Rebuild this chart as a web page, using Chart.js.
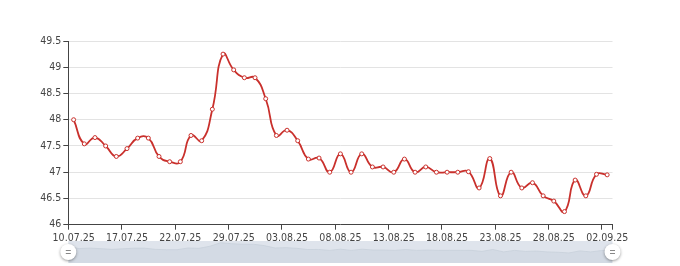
<!DOCTYPE html>
<html><head><meta charset="utf-8">
<script src="https://cdn.jsdelivr.net/npm/chart.js@4.4.1/dist/chart.umd.min.js"></script>
<style>
html,body{margin:0;padding:0;background:#fff;}
#wrap{position:relative;width:680px;height:266px;overflow:hidden;}
#main{position:absolute;left:0;top:0;}
#zoom{position:absolute;left:0;top:236px;}
</style></head><body>
<div id="wrap">
<canvas id="main" width="680" height="266"></canvas>
<canvas id="zoom" width="680" height="30"></canvas>
</div>
<script>
const dates = ['10.07.25','11.07.25','14.07.25','15.07.25','16.07.25','17.07.25','18.07.25','19.07.25','20.07.25','21.07.25',
'22.07.25','23.07.25','24.07.25','25.07.25','28.07.25','29.07.25','30.07.25','31.07.25','01.08.25','02.08.25',
'03.08.25','04.08.25','05.08.25','06.08.25','07.08.25','08.08.25','09.08.25','10.08.25','11.08.25','12.08.25',
'13.08.25','14.08.25','15.08.25','16.08.25','17.08.25','18.08.25','19.08.25','20.08.25','21.08.25','22.08.25',
'23.08.25','24.08.25','25.08.25','26.08.25','27.08.25','28.08.25','29.08.25','30.08.25','31.08.25','01.09.25','02.09.25'];
const rates = [48.0,47.54,47.66,47.5,47.3,47.45,47.65,47.65,47.3,47.2,
47.2,47.7,47.6,48.2,49.25,48.95,48.8,48.8,48.4,47.7,
47.8,47.6,47.25,47.27,47.0,47.35,47.0,47.35,47.1,47.1,
47.0,47.25,47.0,47.1,47.0,47.0,47.0,47.01,46.7,47.26,
46.55,47.0,46.7,46.8,46.55,46.45,46.25,46.85,46.55,46.96,46.95];
const yMin = 46, yMax = 49.5, yStep = 0.5;
const labelEvery = 5;
const shadowMin = 43.3, shadowMax = 49.75;

const FONT = '"Liberation Sans Narrow", "DejaVu Sans Condensed", "Liberation Sans", sans-serif';
const LINE = '#c9302c';

new Chart(document.getElementById('main'), {
  type: 'line',
  data: { labels: dates, datasets: [{
    data: rates, borderColor: LINE, borderWidth: 1.8, tension: 0.5,
    pointRadius: 2, pointBorderWidth: 1, pointBackgroundColor: '#fff', pointBorderColor: LINE, fill: false
  }]},
  options: {
    responsive: false, animation: false, devicePixelRatio: 1,
    layout: { padding: { left: 0, right: 67.5, top: 41, bottom: 0 } },
    plugins: { legend: { display: false }, tooltip: { enabled: false } },
    scales: {
      x: {
        type: 'category', offset: true,
        grid: { display: true, drawOnChartArea: false, offset: true, tickLength: 5,
          tickColor: ctx => (ctx.index === undefined || ctx.index % labelEvery === 0) ? '#444' : 'rgba(0,0,0,0)' },
        border: { color: '#444', width: 1 },
        ticks: { autoSkip: false, maxRotation: 0, minRotation: 0, padding: 2, color: '#444',
          font: { family: FONT, size: 10.5 },
          callback: (v, i) => (i % labelEvery === 0 ? dates[i] : '') },
        afterFit: s => { s.height = 41.3; }
      },
      y: {
        min: yMin, max: yMax,
        ticks: { stepSize: yStep, padding: 2, color: '#444', font: { family: FONT, size: 10.5 },
          callback: v => String(Number(Number(v).toFixed(1))) },
        grid: { color: '#e3e3e3', tickColor: '#444', tickLength: 5 },
        border: { color: '#444', width: 1 },
        afterFit: s => { s.width = 68.3; }
      }
    }
  }
});

const sliderPlugin = {
  id: 'slider',
  beforeDatasetsDraw(chart) {
    const { ctx, chartArea: a } = chart;
    ctx.save();
    ctx.fillStyle = '#dfe4ec';
    ctx.fillRect(a.left, a.top, a.right - a.left, a.bottom - a.top);
    ctx.restore();
  },
  afterDraw(chart) {
    const { ctx, chartArea: a } = chart;
    const cy = (a.top + a.bottom) / 2;
    [a.left, a.right].forEach(cx => {
      ctx.save();
      ctx.shadowColor = 'rgba(0,0,0,0.4)';
      ctx.shadowBlur = 3;
      ctx.shadowOffsetX = 0;
      ctx.shadowOffsetY = 1;
      ctx.beginPath();
      ctx.arc(cx, cy, 8, 0, Math.PI * 2);
      ctx.fillStyle = '#fff';
      ctx.fill();
      ctx.restore();
      ctx.save();
      ctx.strokeStyle = '#888';
      ctx.lineWidth = 1;
      ctx.beginPath();
      ctx.moveTo(cx - 2.5, cy - 1.5); ctx.lineTo(cx + 2.5, cy - 1.5);
      ctx.moveTo(cx - 2.5, cy + 1.5); ctx.lineTo(cx + 2.5, cy + 1.5);
      ctx.stroke();
      ctx.restore();
    });
  }
};

new Chart(document.getElementById('zoom'), {
  type: 'line',
  data: { labels: dates, datasets: [{
    data: rates, borderColor: '#c8d0db', borderWidth: 0.8, pointRadius: 0, tension: 0,
    fill: 'start', backgroundColor: 'rgba(170,182,200,0.22)'
  }]},
  options: {
    responsive: false, animation: false, devicePixelRatio: 1,
    layout: { padding: { left: 68.3, right: 67.5, top: 5, bottom: 3 } },
    plugins: { legend: { display: false }, tooltip: { enabled: false } },
    scales: {
      x: { display: false, offset: false },
      y: { display: false, min: shadowMin, max: shadowMax }
    }
  },
  plugins: [sliderPlugin]
});
</script>
</body></html>
